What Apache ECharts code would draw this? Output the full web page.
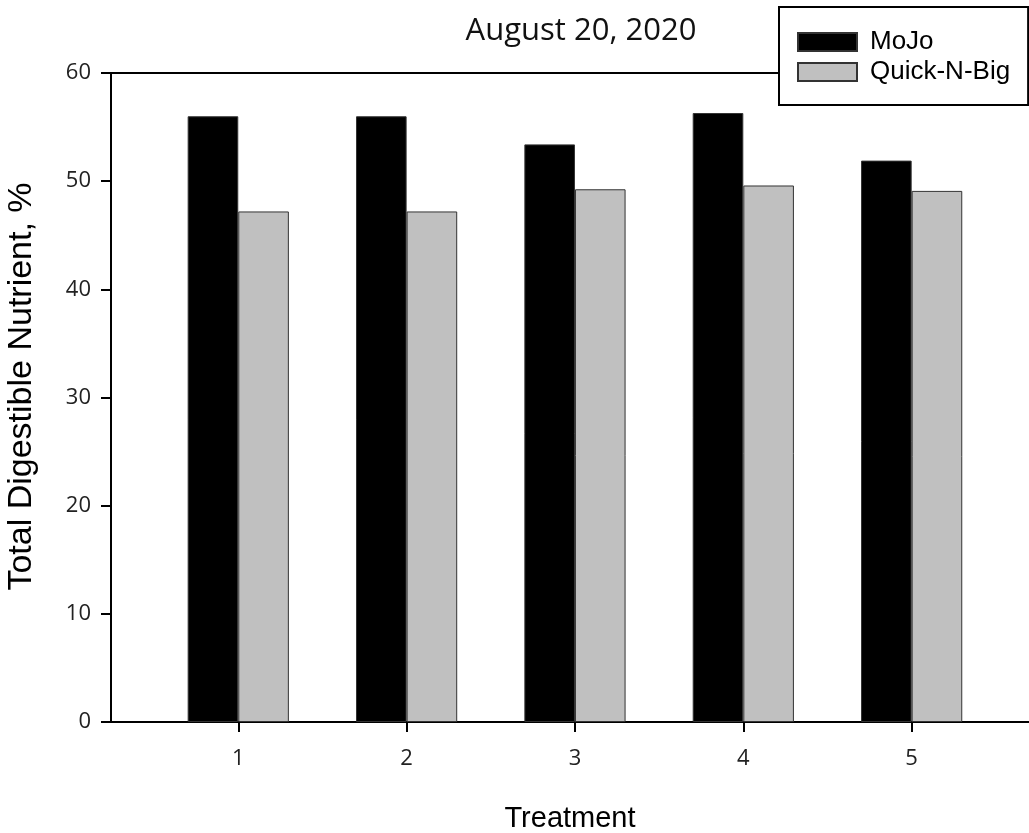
<!DOCTYPE html>
<html>
<head>
<meta charset="utf-8">
<script src="https://cdn.jsdelivr.net/npm/echarts@6/dist/echarts.min.js"></script>
<style>
html,body{margin:0;padding:0;background:#fff;}
#chart{width:1029px;height:833px;}
</style>
</head>
<body>
<div id="chart"></div>
<script>
const treatments = [1, 2, 3, 4, 5];
const mojo = [56.0, 56.0, 53.4, 56.3, 51.9];
const quickNBig = [47.2, 47.2, 49.25, 49.6, 49.1];
const yTicks = [0, 10, 20, 30, 40, 50, 60];

const chart = echarts.init(document.getElementById('chart'));
const xMin = 0.244, xMax = 5.697;
const tickFont = '"Open Sans", sans-serif';
const arial = '"Liberation Sans", Arial, sans-serif';

chart.setOption({
  animation: false,
  backgroundColor: '#ffffff',
  title: {
    text: 'August 20, 2020',
    left: 576,
    top: 11,
    textAlign: 'center',
    textStyle: { fontFamily: tickFont, fontSize: 31, fontWeight: 'normal', color: '#111' }
  },
  legend: {
    orient: 'vertical',
    left: 779,
    top: 7,
    padding: [22, 18, 20, 18],
    itemWidth: 59,
    itemHeight: 18,
    itemGap: 4,
    backgroundColor: '#ffffff',
    borderColor: '#000',
    borderWidth: 2,
    icon: 'rect',
    textStyle: { fontFamily: arial, fontSize: 26, color: '#000', lineHeight: 24, padding: [0, 0, 0, 8] },
    data: ['MoJo', 'Quick-N-Big']
  },
  grid: { left: 111, right: 0, top: 73, bottom: 111, outerBoundsMode: 'none' },
  xAxis: [{
    type: 'value',
    min: xMin,
    max: xMax,
    position: 'bottom',
    name: 'Treatment',
    nameLocation: 'middle',
    nameGap: 82,
    nameTextStyle: { fontFamily: arial, fontSize: 29, color: '#000' },
    axisLine: { show: true, onZero: false, lineStyle: { color: '#000', width: 2 } },
    axisTick: { show: true, customValues: treatments, length: 10, inside: false, lineStyle: { color: '#000', width: 2 } },
    axisLabel: { customValues: treatments, margin: 26, fontFamily: tickFont, fontSize: 22, color: '#222' },
    splitLine: { show: false }
  }, {
    type: 'value',
    min: xMin,
    max: xMax,
    position: 'top',
    axisLine: { show: true, onZero: false, lineStyle: { color: '#000', width: 2 } },
    axisTick: { show: false },
    axisLabel: { show: false },
    splitLine: { show: false }
  }],
  yAxis: {
    type: 'value',
    min: 0,
    max: 60,
    interval: 10,
    name: 'Total Digestible Nutrient, %',
    nameLocation: 'middle',
    nameGap: 72,
    nameTextStyle: { fontFamily: arial, fontSize: 34, color: '#000', padding: [0, 0, 0, 22] },
    axisLine: { show: true, lineStyle: { color: '#000', width: 2 } },
    axisTick: { show: true, length: 10, lineStyle: { color: '#000', width: 2 } },
    axisLabel: { margin: 20, fontFamily: tickFont, fontSize: 22, color: '#222',
      formatter: v => yTicks.includes(v) ? String(v) : '' },
    splitLine: { show: false }
  },
  series: [{
    name: 'MoJo',
    type: 'bar',
    xAxisIndex: 0,
    barWidth: 50.6,
    barGap: '0%',
    itemStyle: { color: '#000000', borderColor: '#333', borderWidth: 1 },
    data: treatments.map((t, i) => [t, mojo[i]])
  }, {
    name: 'Quick-N-Big',
    type: 'bar',
    xAxisIndex: 0,
    barWidth: 50.6,
    barGap: '0%',
    itemStyle: { color: '#c0c0c0', borderColor: '#333', borderWidth: 1 },
    data: treatments.map((t, i) => [t, quickNBig[i]])
  }]
});
</script>
</body>
</html>
